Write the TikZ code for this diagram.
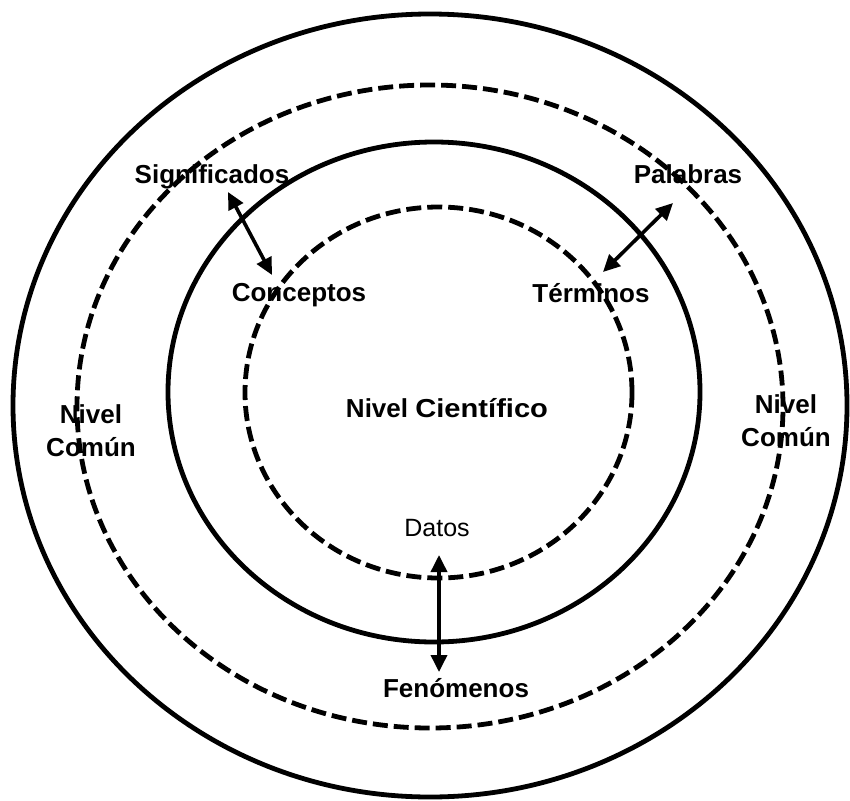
\documentclass[tikz,border=0pt]{standalone}
\usepackage{fontspec}
\usepackage{graphicx}
\setmainfont{Liberation Sans}
\usetikzlibrary{arrows.meta}
\begin{document}
\begin{tikzpicture}[x=1pt,y=-1pt,
  ring/.style={line width=4.8pt},
  dashring/.style={line width=4.8pt,dash pattern=on 15pt off 6pt},
  label/.style={font=\fontsize{26}{33}\selectfont\bfseries,align=center,inner sep=0pt,anchor=base},
  plain/.style={font=\fontsize{25}{30}\selectfont,inner sep=0pt,anchor=base},
  link/.style={line width=3.6pt,{Triangle[length=17pt,width=16pt]}-{Triangle[length=17pt,width=16pt]}}]
  \useasboundingbox (0,0) rectangle (850,800);
  % concentric levels
  \draw[ring] (430,405.5) ellipse [x radius=417pt, y radius=391.5pt];
  \draw[dashring] (430,406.5) ellipse [x radius=353pt, y radius=321.5pt];
  \draw[ring] (434,392) ellipse [x radius=266pt, y radius=250pt];
  \draw[dashring] (438.5,392.5) ellipse [x radius=193.5pt, y radius=185.5pt];
  % labels
  \node[label] (cientifico) at (447,417) {Nivel \scalebox{1.12}[1]{Científico}};
  \node[plain] (datos) at (437,536) {Datos};
  \node[label] (conceptos) at (299,301) {Conceptos};
  \node[label] (terminos) at (591,302) {Términos};
  \node[label] (fenomenos) at (456,697) {Fenómenos};
  \node[label] (significados) at (212,183) {Significados};
  \node[label] (palabras) at (688,183) {Palabras};
  \node[label] (comunL) at (91,456) {Nivel\\Común};
  \node[label] (comunR) at (786,446) {Nivel\\Común};
  % arrow ends
  \coordinate (sigA) at (228,192);
  \coordinate (conA) at (272,275);
  \coordinate (palA) at (673,203);
  \coordinate (terA) at (603,272);
  \coordinate (datA) at (439,555);
  \coordinate (fenA) at (439,672);
  \draw[link] (sigA) -- (conA);
  \draw[link] (palA) -- (terA);
  \draw[link] (datA) -- (fenA);
\end{tikzpicture}
\end{document}
